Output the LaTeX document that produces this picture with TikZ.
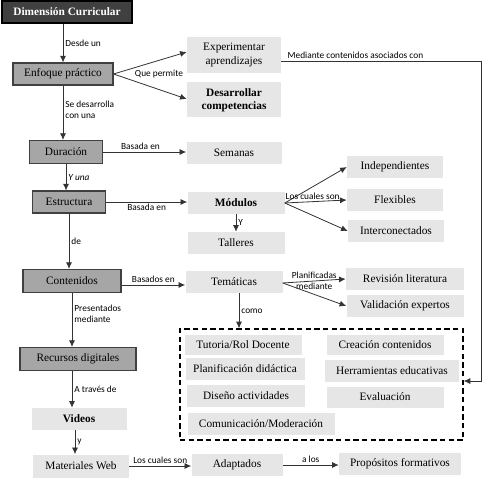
\documentclass[tikz,border=0pt]{standalone}
\usepackage{fontspec}
\setmainfont{Liberation Serif}
\newfontfamily\labelfont{Carlito}
\usetikzlibrary{arrows.meta}
\definecolor{boxdark}{HTML}{404040}
\definecolor{boxmid}{HTML}{A6A6A6}
\definecolor{boxlight}{HTML}{E6E6E6}
\tikzset{
  sz/.style 2 args={minimum width=#1*0.75pt, minimum height=#2*0.75pt, inner sep=0pt},
  darkbox/.style={draw=black, line width=0.8pt, fill=boxdark, text=white,
    font=\bfseries\fontsize{8.5}{10}\selectfont},
  midbox/.style={draw=black!75, line width=0.8pt, fill=boxmid,
    font=\fontsize{8.5}{10}\selectfont},
  lightbox/.style={fill=boxlight, align=center,
    font=\fontsize{8.5}{10}\selectfont},
  boldbox/.style={lightbox, font=\bfseries\fontsize{8.5}{10}\selectfont},
  dashbox/.style={draw=black, line width=0.9pt, dash pattern=on 4pt off 2.5pt},
  arr/.style={draw=black!80, line width=0.6pt, -{Latex[length=5pt,width=4.5pt]}},
  lbl/.style={font=\labelfont\fontsize{7}{8.5}\selectfont, inner sep=1.5pt, align=left},
}
\begin{document}
\begin{tikzpicture}[x=0.75pt, y=-0.75pt]
\useasboundingbox (0,0) rectangle (483,478);
% left column
\node[darkbox, sz={130}{22}] (dim) at (67,12) {Dimensión Curricular};
\node[midbox, sz={100}{22}] (enfoque) at (63,74) {Enfoque práctico};
\node[midbox, sz={73}{23}] (duracion) at (66,152) {Duración};
\node[midbox, sz={73}{22}] (estructura) at (69,202) {Estructura};
\node[midbox, sz={98}{23}] (contenidos) at (72,281) {Contenidos};
\node[midbox, sz={116}{23}] (recursos) at (78,359) {Recursos digitales};
\node[boldbox, sz={95}{22}] (videos) at (79,419) {Videos};
\node[lightbox, sz={96}{23}] (materiales) at (81,466) {Materiales Web};
% middle column
\node[lightbox, sz={94}{36}] (experimentar) at (234,55) {Experimentar\\aprendizajes};
\node[boldbox, sz={94}{35}] (desarrollar) at (234,100) {Desarrollar\\competencias};
\node[lightbox, sz={95}{22}] (semanas) at (234,153) {Semanas};
\node[boldbox, sz={97}{22}] (modulos) at (236,203) {Módulos};
\node[lightbox, sz={97}{22}] (talleres) at (236,243) {Talleres};
\node[lightbox, sz={97}{22}] (tematicas) at (234,282) {Temáticas};
\node[lightbox, sz={91}{22}] (adaptados) at (237,465) {Adaptados};
% right column
\node[lightbox, sz={96}{22}] (indep) at (395,167) {Independientes};
\node[lightbox, sz={96}{22}] (flex) at (395,200) {Flexibles};
\node[lightbox, sz={96}{22}] (inter) at (396,231) {Interconectados};
\node[lightbox, sz={118}{22}] (revision) at (405,279) {Revisión literatura};
\node[lightbox, sz={117}{22}] (validacion) at (405,306) {Validación expertos};
\node[lightbox, sz={122}{22}] (propositos) at (400,464) {Propósitos formativos};
% dashed group
\node[dashbox, sz={283}{111}] (grupo) at (321.5,384.5) {};
\node[lightbox, sz={117}{20}] (tutoria) at (243,345) {Tutoria/Rol Docente};
\node[lightbox, sz={119}{22}] (planif) at (245,369) {Planificación didáctica};
\node[lightbox, sz={118}{22}] (diseno) at (246,396) {Diseño actividades};
\node[lightbox, sz={147}{22}] (comunic) at (261,424) {Comunicación/Moderación};
\node[lightbox, sz={117}{20}] (creacion) at (385,345) {Creación contenidos};
\node[lightbox, sz={134}{22}] (herram) at (392,371) {Herramientas educativas};
\node[lightbox, sz={117}{21}] (evaluacion) at (385,397) {Evaluación};

% connectors
\draw[arr] (dim.south -| enfoque.north) -- node[lbl, right] {Desde un} (enfoque.north);
\draw[arr] (enfoque.east) -- (experimentar.west |- 0,52);
\draw[arr] (enfoque.east) -- (desarrollar.west |- 0,99);
\node[lbl] (quepermite) at (159,74) {Que permite};
\draw[arr] (enfoque.south) -- node[lbl, right, pos=0.45] {Se desarrolla\\con una} (enfoque.south |- duracion.north);
\draw[arr] (duracion.east) -- node[lbl, above, pos=0.45] {Basada en} (semanas.west |- duracion.east);
\draw[arr] (duracion.south) -- node[lbl, right] {\itshape Y una} (duracion.south |- estructura.north);
\draw[arr] (estructura.east) -- node[lbl, below, pos=0.5] {Basada en} (modulos.west |- estructura.east);
\draw[arr] (estructura.south) -- node[lbl, right] {de} (estructura.south |- contenidos.north);
\draw[arr] (modulos.east) -- (indep.west);
\draw[arr] (modulos.east) -- node[lbl, above, pos=0.45] {Los cuales son} (flex.west);
\draw[arr] (modulos.east) -- (inter.west);
\draw[arr] (modulos.south) -- node[lbl, right] {Y} (talleres.north);
\draw[arr] ([yshift=-3pt]contenidos.east) -- node[lbl, above] {Basados en} (tematicas.west |- 0,285);
\draw[arr] ([yshift=-0.75pt]tematicas.east) -- node[lbl, above] {Planificadas} node[lbl, below] {mediante} (revision.west);
\draw[arr] ([yshift=-0.75pt]tematicas.east) -- (validacion.west);
\draw[arr] ([xshift=3.75pt]tematicas.south) -- node[lbl, right] {como} ([xshift=3.75pt]tematicas.south |- grupo.north);
\draw[arr] (contenidos.south) -- node[lbl, right, pos=0.38] {Presentados\\mediante} (contenidos.south |- recursos.north);
\draw[arr] (recursos.south -| contenidos.south) -- node[lbl, right] {A través de} (videos.north -| contenidos.south);
\draw[arr] (videos.south -| 75,0) -- node[lbl, right] {y} (materiales.north -| 75,0);
\draw[arr] (materiales.east) -- node[lbl, above] {Los cuales son} (adaptados.west |- materiales.east);
\draw[arr] (adaptados.east) -- node[lbl, above] {a los} (propositos.west |- adaptados.east);
\draw[arr] ([yshift=-4.5pt]experimentar.east) -- node[lbl, above right, pos=0.02] {Mediante contenidos asociados con} (481,61) |- ([yshift=2.6pt]grupo.east);
\end{tikzpicture}
\end{document}
